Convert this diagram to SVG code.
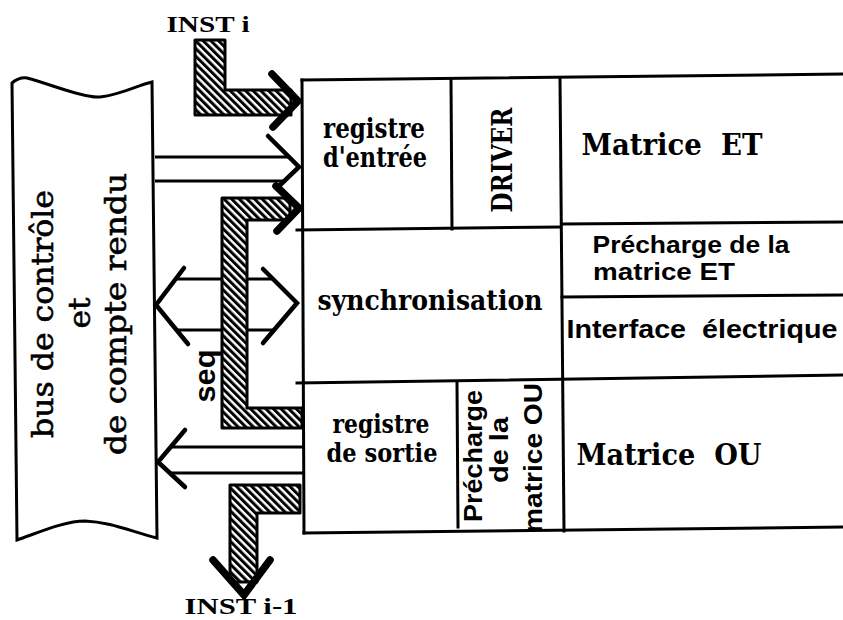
<svg xmlns="http://www.w3.org/2000/svg" width="843" height="620" viewBox="0 0 843 620">
<style>
.ln{stroke:#000;stroke-width:3;fill:none;stroke-linecap:square}
.bus{stroke:#000;stroke-width:3;fill:#fff}
.wire{stroke:#000;stroke-width:3;fill:none}
.chev{stroke:#000;stroke-width:4.5;fill:none;stroke-linecap:round;stroke-linejoin:miter}
.chevb{stroke:#000;stroke-width:7.5;fill:none;stroke-linecap:round;stroke-linejoin:miter}
.hat{fill:url(#hatch);stroke:#000;stroke-width:3;stroke-linejoin:round}
.s{font-family:"DejaVu Serif","Liberation Serif",serif;font-weight:bold;fill:#000;text-anchor:middle}
.r{font-family:"DejaVu Serif","Liberation Serif",serif;fill:#000;stroke:#000;stroke-width:0.6;text-anchor:middle}
.a{font-family:"Liberation Sans",Arial,sans-serif;font-weight:bold;fill:#000;text-anchor:middle}
.t{font-family:"Liberation Serif","Times New Roman",serif;font-weight:bold;fill:#000;text-anchor:middle}
</style>
<defs>
<pattern id="hatch" patternUnits="userSpaceOnUse" width="5.4" height="5.4" patternTransform="rotate(-45)">
<rect width="5.4" height="5.4" fill="#fff"/>
<rect width="3" height="5.4" fill="#000"/>
</pattern>
</defs>
<rect width="843" height="620" fill="#fff"/>

<g id="bus">
<path class="bus" d="M12,83 Q19,77 27,78 C50,84 80,97 97,97 C115,97 135,86 152,82 L157,538 C130,531 110,522 85,521 C65,521 40,532 17,540 Z"/>
<text class="r" font-size="29" transform="translate(53,314) rotate(-90)" textLength="248" lengthAdjust="spacingAndGlyphs">bus de contrôle</text>
<text class="r" font-size="29" transform="translate(90,313) rotate(-90)" textLength="31" lengthAdjust="spacingAndGlyphs">et</text>
<text class="r" font-size="29" transform="translate(126,314) rotate(-90)" textLength="282" lengthAdjust="spacingAndGlyphs">de compte rendu</text>
</g>

<g id="block">
<line class="ln" x1="302" y1="80" x2="843" y2="74"/>
<line class="ln" x1="302" y1="80" x2="304" y2="533"/>
<line class="ln" x1="304" y1="533" x2="843" y2="527"/>
<line class="ln" x1="451" y1="80" x2="452" y2="229"/>
<line class="ln" x1="560" y1="78" x2="564" y2="531"/>
<line class="ln" x1="297" y1="230" x2="560" y2="227"/>
<line class="ln" x1="562" y1="224" x2="843" y2="222"/>
<line class="ln" x1="562" y1="297" x2="843" y2="295"/>
<line class="ln" x1="297" y1="383" x2="843" y2="375"/>
<line class="ln" x1="457" y1="383" x2="458" y2="527"/>
</g>

<g id="registre-entree">
<text class="s" font-size="27" x="374" y="138" textLength="102" lengthAdjust="spacingAndGlyphs">registre</text>
<text class="s" font-size="27" x="375" y="167" textLength="104" lengthAdjust="spacingAndGlyphs">d'entrée</text>
</g>
<g id="driver">
<text class="s" font-size="27" transform="translate(512,160) rotate(-90)" textLength="105" lengthAdjust="spacingAndGlyphs">DRIVER</text>
</g>
<g id="matrice-et">
<text class="s" font-size="29" x="672" y="155" textLength="181" lengthAdjust="spacingAndGlyphs" xml:space="preserve">Matrice  ET</text>
</g>
<g id="precharge-et">
<text class="a" font-size="24" x="691" y="253" textLength="197" lengthAdjust="spacingAndGlyphs">Précharge de la</text>
<text class="a" font-size="24" x="664" y="280" textLength="142" lengthAdjust="spacingAndGlyphs">matrice ET</text>
</g>
<g id="interface">
<text class="a" font-size="25" x="702" y="338" textLength="271" lengthAdjust="spacingAndGlyphs" xml:space="preserve">Interface  électrique</text>
</g>
<g id="synchronisation">
<text class="s" font-size="27" x="430" y="310" textLength="225" lengthAdjust="spacingAndGlyphs">synchronisation</text>
</g>
<g id="registre-sortie">
<text class="s" font-size="26" x="381" y="433" textLength="97" lengthAdjust="spacingAndGlyphs">registre</text>
<text class="s" font-size="26" x="382" y="462" textLength="111" lengthAdjust="spacingAndGlyphs">de sortie</text>
</g>
<g id="precharge-ou">
<text class="a" font-size="25" transform="translate(482,456) rotate(-90)" textLength="132" lengthAdjust="spacingAndGlyphs">Précharge</text>
<text class="a" font-size="25" transform="translate(508,450) rotate(-90)" textLength="66" lengthAdjust="spacingAndGlyphs">de la</text>
<text class="a" font-size="25" transform="translate(542,458) rotate(-90)" textLength="150" lengthAdjust="spacingAndGlyphs">matrice OU</text>
</g>
<g id="matrice-ou">
<text class="s" font-size="29" x="669" y="465" textLength="185" lengthAdjust="spacingAndGlyphs" xml:space="preserve">Matrice  OU</text>
</g>

<g id="connectors">
<line class="wire" x1="155" y1="157" x2="289" y2="157"/>
<line class="wire" x1="155" y1="181" x2="285" y2="181"/>
<polyline class="chev" points="268,136 299,167 277,188"/>
<line class="wire" x1="175" y1="279" x2="274" y2="279"/>
<line class="wire" x1="176" y1="330" x2="275" y2="330"/>
<polyline class="chev" points="184,268 156,305 188,344"/>
<polyline class="chev" points="263,269 297,303 263,343"/>
<line class="wire" x1="170" y1="447" x2="304" y2="447"/>
<line class="wire" x1="170" y1="473" x2="304" y2="473"/>
<polyline class="chev" points="185,430 158,462 185,487"/>
<polygon class="hat" points="195,40 225,40 225,90 291,90 291,115 195,115"/>
<polyline class="chevb" points="272,74 298,101 273,127"/>
<polygon class="hat" points="302,408 302,428 222,428 222,198 290,198 290,220 247,220 247,408"/>
<polyline class="chevb" points="276,186 299,208 277,231"/>
<polygon class="hat" points="230,485 300,485 300,513 257,513 257,582 230,582"/>
<polyline class="chevb" points="213,560 244,595 270,560"/>
<text class="a" font-size="30" transform="translate(215,376) rotate(-90)" textLength="53" lengthAdjust="spacingAndGlyphs">seq</text>
<text class="t" font-size="24" x="208" y="32" textLength="83" lengthAdjust="spacingAndGlyphs">INST i</text>
<text class="t" font-size="24" x="241" y="614" textLength="113" lengthAdjust="spacingAndGlyphs">INST i-1</text>
</g>
</svg>
